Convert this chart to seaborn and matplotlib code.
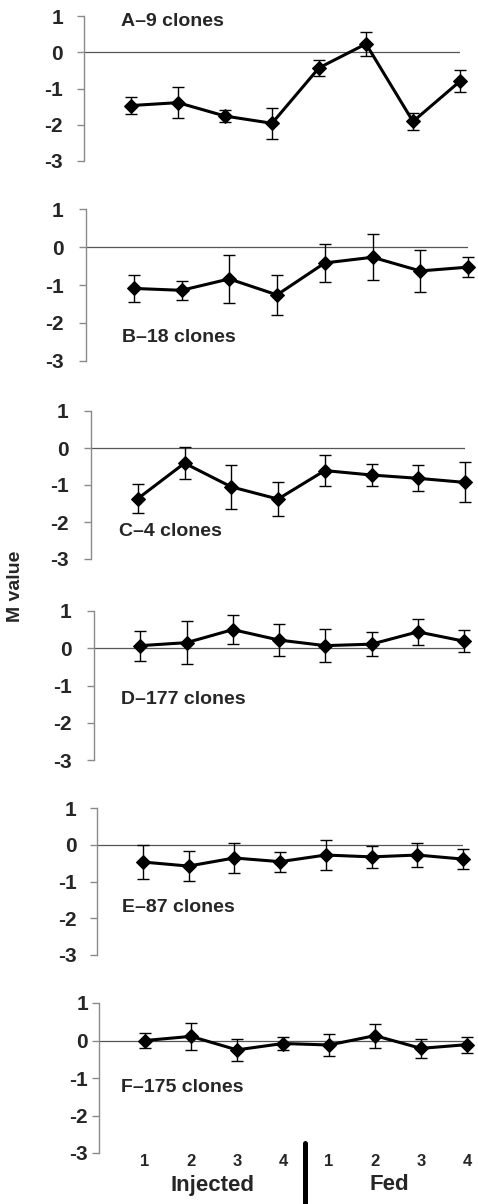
import numpy as np
import pandas as pd
import matplotlib
matplotlib.use("Agg")
import matplotlib.pyplot as plt
from matplotlib.lines import Line2D
import seaborn as sns

W, H = 478, 1204

# x categories: days 1-4 after injection, then days 1-4 after feeding
days = ["1", "2", "3", "4", "1", "2", "3", "4"]
groups = ["Injected", "Fed"]

panel_titles = ["A\u20139 clones", "B\u201318 clones", "C\u20134 clones",
                "D\u2013177 clones", "E\u201387 clones", "F\u2013175 clones"]

A_mean = [-1.47, -1.39, -1.76, -1.96, -0.43, 0.23, -1.91, -0.80]
A_err = [0.24, 0.43, 0.17, 0.42, 0.23, 0.33, 0.23, 0.31]
B_mean = [-1.09, -1.14, -0.84, -1.26, -0.42, -0.27, -0.63, -0.53]
B_err = [0.36, 0.25, 0.64, 0.53, 0.51, 0.60, 0.55, 0.27]
C_mean = [-1.37, -0.41, -1.05, -1.38, -0.61, -0.73, -0.82, -0.93]
C_err = [0.40, 0.44, 0.60, 0.46, 0.42, 0.30, 0.35, 0.54]
D_mean = [0.07, 0.15, 0.50, 0.22, 0.07, 0.11, 0.44, 0.19]
D_err = [0.40, 0.58, 0.38, 0.42, 0.44, 0.32, 0.35, 0.30]
E_mean = [-0.47, -0.58, -0.36, -0.46, -0.28, -0.33, -0.28, -0.39]
E_err = [0.46, 0.40, 0.40, 0.27, 0.41, 0.30, 0.33, 0.27]
F_mean = [0.00, 0.11, -0.25, -0.08, -0.12, 0.13, -0.21, -0.11]
F_err = [0.20, 0.37, 0.29, 0.18, 0.29, 0.32, 0.26, 0.21]

means = [A_mean, B_mean, C_mean, D_mean, E_mean, F_mean]
errs = [A_err, B_err, C_err, D_err, E_err, F_err]

# panel boxes in pixels: left, right, top (y=1), bottom (y=-3)
boxes = [(84, 460, 16, 161), (86, 468, 209, 361), (91, 465, 411, 559),
         (94, 464, 611, 760), (97, 463, 808, 955), (99, 467, 1003, 1153)]
title_pos = [(121, 22), (122, 337), (119, 532), (121, 699), (122, 907), (121, 1087)]
label_pad = [10, 11, 11, 11, 9.5, 3]

sns.set_style("white")
plt.rcParams["font.family"] = ["Liberation Sans", "DejaVu Sans"]
plt.rcParams["font.weight"] = "bold"

SPINE = "#8a8a8a"

fig = plt.figure(figsize=(W / 100, H / 100), dpi=100)

x = np.arange(1, 9)
axes = []
for i, (l, r, t, b) in enumerate(boxes):
    ax = fig.add_axes([l / W, 1 - b / H, (r - l) / W, (b - t) / H])
    df = pd.DataFrame({"x": x, "m": means[i]})
    ax.axhline(0, color="#555555", lw=0.9, zorder=1)
    ax.errorbar(x, means[i], yerr=errs[i], fmt="none", ecolor="black",
                elinewidth=1.0, capsize=4, capthick=1.0, zorder=2, clip_on=False)
    sns.lineplot(data=df, x="x", y="m", ax=ax, color="black", lw=2.2,
                 marker="D", markersize=7.5, markeredgecolor="black",
                 zorder=3, clip_on=False)
    ax.set_xlim(0, 8)
    ax.set_ylim(-3, 1)
    ax.set_yticks([-3, -2, -1, 0, 1])
    ax.set_yticklabels(["-3", "-2", "-1", "0", "1"], fontsize=15, fontweight="bold")
    for s in ["top", "right", "bottom"]:
        ax.spines[s].set_visible(False)
    ax.spines["left"].set_color(SPINE)
    ax.spines["left"].set_linewidth(1.0)
    ax.tick_params(axis="y", direction="out", length=5, width=1.0,
                   color=SPINE, pad=label_pad[i], left=True)
    ax.set_xlabel("")
    ax.set_ylabel("")
    ax.set_xticks([])
    ax.set_facecolor("none")
    tx, ty = title_pos[i]
    fig.text(tx / W, 1 - ty / H, panel_titles[i], fontsize=14,
             fontweight="bold", ha="left", va="center")
    axes.append(ax)

# day labels under the last panel
last = axes[-1]
last.set_xticks(x)
last.set_xticklabels(days, fontsize=12, fontweight="bold")
last.tick_params(axis="x", bottom=False, length=0, pad=1)

fig.text(213 / W, 1 - 1185 / H, groups[0], fontsize=16, fontweight="bold",
         ha="center", va="center")
fig.text(389 / W, 1 - 1185 / H, groups[1], fontsize=16, fontweight="bold",
         ha="center", va="center")
fig.add_artist(Line2D([305 / W, 305 / W], [1 - 1143 / H, 0],
                      transform=fig.transFigure, color="black", lw=3.6))

fig.text(15 / W, 1 - 586 / H, "M value", fontsize=14, fontweight="bold",
         rotation=90, ha="center", va="center")

fig.savefig("out.png", dpi=100)
